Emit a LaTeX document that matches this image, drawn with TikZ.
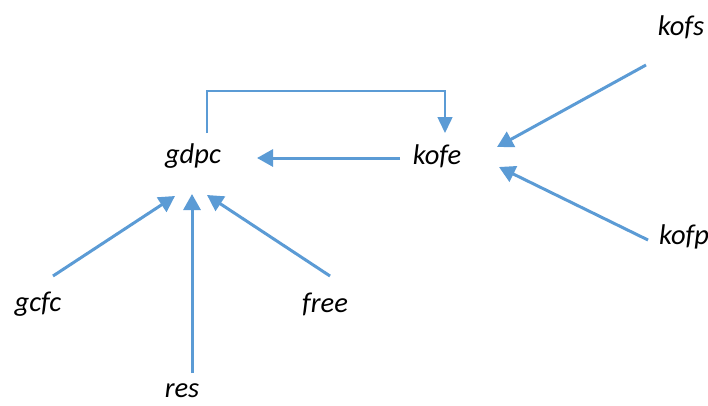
\documentclass[tikz,border=0pt]{standalone}
\usepackage{fontspec}
\setmainfont{Carlito}
\usetikzlibrary{arrows.meta}
\definecolor{linkblue}{RGB}{91,155,213}
\tikzset{
  lbl/.style={font=\itshape\fontsize{28.5}{32}\selectfont, inner sep=0pt, text=black},
  flow/.style={draw=linkblue, line width=3pt, -{Triangle[length=16pt,width=17pt]}},
  loopback/.style={draw=linkblue, line width=1.5pt, -{Triangle[length=16pt,width=15pt]}}
}
\begin{document}
\begin{tikzpicture}[x=1pt,y=-1pt]
\useasboundingbox (0,0) rectangle (708,405);
% variable labels
\node[lbl] (gdpc) at (193,156) {gdpc};
\node[lbl] (kofe) at (437,156) {kofe};
\node[lbl] (kofs) at (681,27) {kofs};
\node[lbl] (kofp) at (684,237) {kofp};
\node[lbl] (gcfc) at (38,304) {gcfc};
\node[lbl] (free) at (325,304) {free};
\node[lbl] (res) at (182,391) {res};
% arrow end points
\coordinate (kofeL) at (400,158);
\coordinate (gdpcR) at (257,158);
\coordinate (gdpcT) at (207,133);
\coordinate (kofeT) at (445,133);
\coordinate (kofsS) at (646,65);
\coordinate (kofeUp) at (497,147);
\coordinate (kofpS) at (648,240);
\coordinate (kofeLo) at (499,167);
\coordinate (gcfcS) at (53,276);
\coordinate (gdpcBL) at (175,196);
\coordinate (resS) at (192,373);
\coordinate (gdpcB) at (192,194);
\coordinate (freeS) at (330,276);
\coordinate (gdpcBR) at (207,195);
% connectors
\draw[flow] (kofeL) -- (gdpcR);
\draw[loopback] (gdpcT) -- (207,91) -- (445,91) -- (kofeT);
\draw[flow] (kofsS) -- (kofeUp);
\draw[flow] (kofpS) -- (kofeLo);
\draw[flow] (gcfcS) -- (gdpcBL);
\draw[flow] (resS) -- (gdpcB);
\draw[flow] (freeS) -- (gdpcBR);
\end{tikzpicture}
\end{document}
